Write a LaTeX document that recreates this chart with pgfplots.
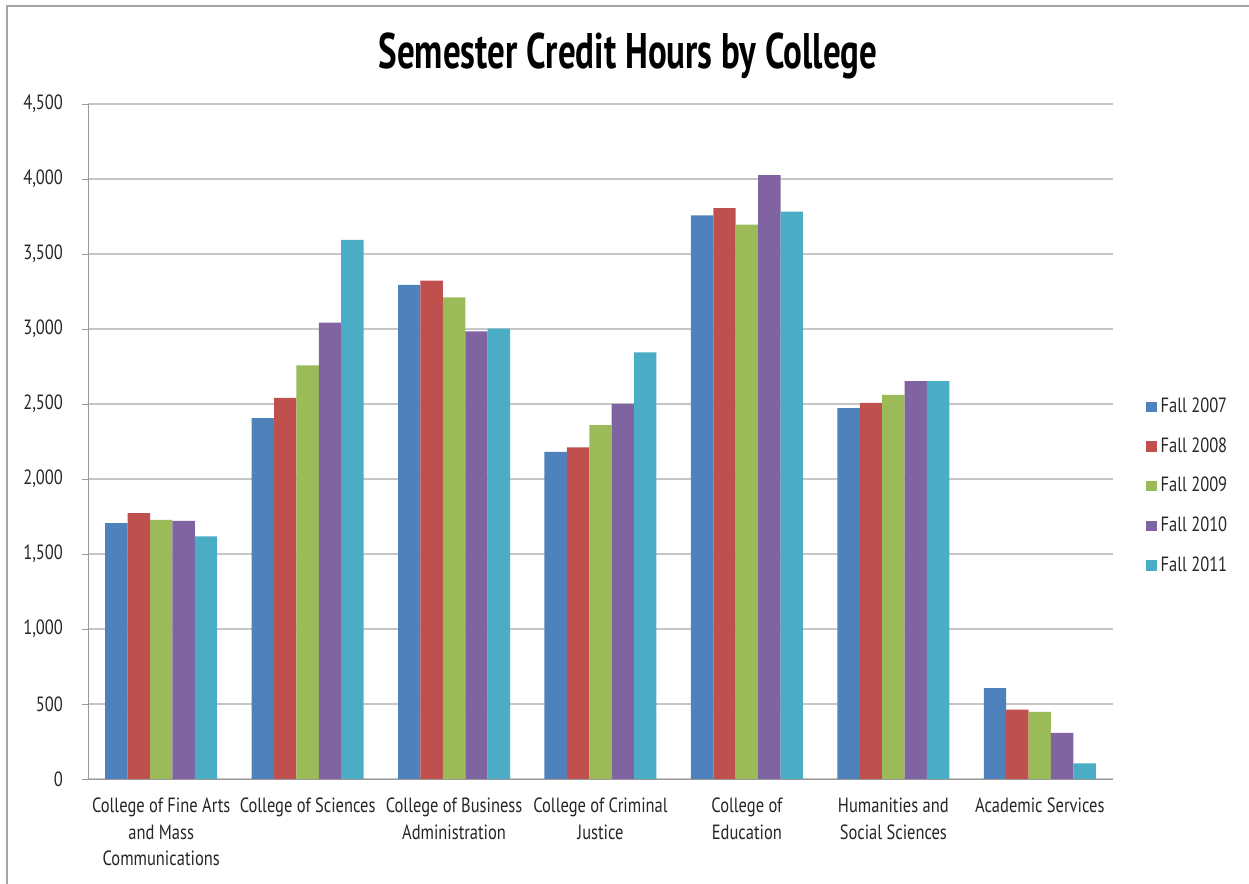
\documentclass[border=0pt]{standalone}
\usepackage{fontspec}
\setmainfont{PT Sans}[FakeStretch=0.8]
\newfontfamily\titlefont{PT Sans}[FakeStretch=0.7]
\usepackage{pgfplots}
\pgfplotsset{compat=1.18}

\definecolor{fallA}{HTML}{4F81BD}
\definecolor{fallB}{HTML}{C0504D}
\definecolor{fallC}{HTML}{9BBB59}
\definecolor{fallD}{HTML}{8064A2}
\definecolor{fallE}{HTML}{4BACC6}

\begin{document}
\begin{tikzpicture}
    \path[use as bounding box] (0pt,0pt) rectangle (624.5pt,442pt);
    \draw[gray!70, line width=1pt] (3.5pt,0pt) -- (3.5pt,439pt) -- (624.5pt,439pt);
    \node[font=\titlefont\bfseries\fontsize{25}{28}\selectfont] at (314pt,414pt) {Semester Credit Hours by College};

    \begin{axis}[
            at={(44pt,52.5pt)}, anchor=south west,
            scale only axis,
            width=512.5pt, height=337.5pt,
            ybar=0pt, bar width=11.2pt,
            xmin=-0.5, xmax=6.5,
            ymin=0, ymax=4500,
            ytick={0,500,...,4500},
            xtick={0,...,6},
            xticklabels={
                    {College of Fine Arts\\and Mass\\Communications},
                    {College of Sciences},
                    {College of Business\\Administration},
                    {College of Criminal\\Justice},
                    {College of\\Education},
                    {Humanities and\\Social Sciences},
                    {Academic Services}},
            xticklabel style={align=center, font=\fontsize{10.3}{13.2}\selectfont, text=black!85, yshift=-3pt},
            yticklabel style={font=\fontsize{10.3}{12}\selectfont, text=black!85, xshift=-6pt},
            /pgf/number format/assume math mode=true,
            /pgf/number format/1000 sep={,},
            major x tick style={draw=none},
            extra x ticks={-0.5,0.5,...,6.5},
            extra x tick labels={},
            extra x tick style={grid=none, major tick length=3pt, tick style={draw=gray!80}},
            ymajorgrids,
            grid style={gray!45, line width=0.8pt},
            tick align=outside,
            major tick length=3pt,
            y tick style={draw=gray!80},
            axis line style={gray!80},
            axis x line*=bottom,
            axis y line*=left,
            legend style={at={(1.032,0.571)}, anchor=north west, draw=none, fill=none,
                    inner sep=0pt, row sep=7pt, font=\fontsize{10.3}{12}\selectfont,
                    text=black!85},
            legend cell align=left,
            legend image code/.code={\fill[#1] (0pt,-2.6pt) rectangle (5.2pt,2.6pt);},
        ]

        \addplot[fill=fallA, draw=none] coordinates {
                (0,1706) (1,2406) (2,3294) (3,2180) (4,3758) (5,2472) (6,605)
            };
        \addlegendentry{Fall 2007}

        \addplot[fill=fallB, draw=none] coordinates {
                (0,1772) (1,2540) (2,3323) (3,2210) (4,3806) (5,2507) (6,462)
            };
        \addlegendentry{Fall 2008}

        \addplot[fill=fallC, draw=none] coordinates {
                (0,1727) (1,2758) (2,3210) (3,2359) (4,3696) (5,2561) (6,447)
            };
        \addlegendentry{Fall 2009}

        \addplot[fill=fallD, draw=none] coordinates {
                (0,1721) (1,3043) (2,2984) (3,2501) (4,4026) (5,2653) (6,307)
            };
        \addlegendentry{Fall 2010}

        \addplot[fill=fallE, draw=none] coordinates {
                (0,1617) (1,3594) (2,3002) (3,2844) (4,3782) (5,2653) (6,104)
            };
        \addlegendentry{Fall 2011}

    \end{axis}
\end{tikzpicture}
\end{document}
